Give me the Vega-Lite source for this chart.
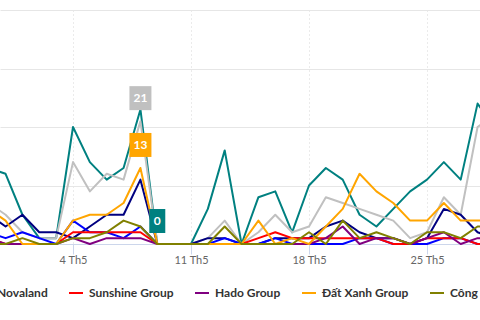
{
  "$schema": "https://vega.github.io/schema/vega-lite/v6.json",
  "autosize": {"type": "none"},
  "padding": {"left": 0, "top": 10, "right": 0, "bottom": 76},
  "width": 480,
  "height": 234,
  "config": {"view": {"stroke": null}, "font": "Lato"},
  "data": {"values": [
    {"s":"Vingroup","d":"2018-04-29","v":13},{"s":"Vingroup","d":"2018-04-30","v":12},{"s":"Vingroup","d":"2018-05-01","v":5},{"s":"Vingroup","d":"2018-05-02","v":1},{"s":"Vingroup","d":"2018-05-03","v":1},{"s":"Vingroup","d":"2018-05-04","v":20},{"s":"Vingroup","d":"2018-05-05","v":14},{"s":"Vingroup","d":"2018-05-06","v":11},{"s":"Vingroup","d":"2018-05-07","v":13},{"s":"Vingroup","d":"2018-05-08","v":23},{"s":"Vingroup","d":"2018-05-09","v":0},{"s":"Vingroup","d":"2018-05-10","v":0},{"s":"Vingroup","d":"2018-05-11","v":0},{"s":"Vingroup","d":"2018-05-12","v":6},{"s":"Vingroup","d":"2018-05-13","v":16},{"s":"Vingroup","d":"2018-05-14","v":0},{"s":"Vingroup","d":"2018-05-15","v":8},{"s":"Vingroup","d":"2018-05-16","v":9},{"s":"Vingroup","d":"2018-05-17","v":2},{"s":"Vingroup","d":"2018-05-18","v":10},{"s":"Vingroup","d":"2018-05-19","v":13},{"s":"Vingroup","d":"2018-05-20","v":11},{"s":"Vingroup","d":"2018-05-21","v":5},{"s":"Vingroup","d":"2018-05-22","v":3},{"s":"Vingroup","d":"2018-05-23","v":6},{"s":"Vingroup","d":"2018-05-24","v":9},{"s":"Vingroup","d":"2018-05-25","v":11},{"s":"Vingroup","d":"2018-05-26","v":14},{"s":"Vingroup","d":"2018-05-27","v":11},{"s":"Vingroup","d":"2018-05-28","v":24},{"s":"Vingroup","d":"2018-05-29","v":20},
    {"s":"FLC Group","d":"2018-04-29","v":7},{"s":"FLC Group","d":"2018-04-30","v":5},{"s":"FLC Group","d":"2018-05-01","v":2},{"s":"FLC Group","d":"2018-05-02","v":1},{"s":"FLC Group","d":"2018-05-03","v":1},{"s":"FLC Group","d":"2018-05-04","v":14},{"s":"FLC Group","d":"2018-05-05","v":9},{"s":"FLC Group","d":"2018-05-06","v":12},{"s":"FLC Group","d":"2018-05-07","v":11},{"s":"FLC Group","d":"2018-05-08","v":21},{"s":"FLC Group","d":"2018-05-09","v":0},{"s":"FLC Group","d":"2018-05-10","v":0},{"s":"FLC Group","d":"2018-05-11","v":0},{"s":"FLC Group","d":"2018-05-12","v":1},{"s":"FLC Group","d":"2018-05-13","v":4},{"s":"FLC Group","d":"2018-05-14","v":0},{"s":"FLC Group","d":"2018-05-15","v":2},{"s":"FLC Group","d":"2018-05-16","v":5},{"s":"FLC Group","d":"2018-05-17","v":2},{"s":"FLC Group","d":"2018-05-18","v":3},{"s":"FLC Group","d":"2018-05-19","v":8},{"s":"FLC Group","d":"2018-05-20","v":7},{"s":"FLC Group","d":"2018-05-21","v":6},{"s":"FLC Group","d":"2018-05-22","v":5},{"s":"FLC Group","d":"2018-05-23","v":4},{"s":"FLC Group","d":"2018-05-24","v":1},{"s":"FLC Group","d":"2018-05-25","v":2},{"s":"FLC Group","d":"2018-05-26","v":8},{"s":"FLC Group","d":"2018-05-27","v":5},{"s":"FLC Group","d":"2018-05-28","v":20},{"s":"FLC Group","d":"2018-05-29","v":22},
    {"s":"Vinhomes","d":"2018-04-29","v":5},{"s":"Vinhomes","d":"2018-04-30","v":3},{"s":"Vinhomes","d":"2018-05-01","v":5},{"s":"Vinhomes","d":"2018-05-02","v":2},{"s":"Vinhomes","d":"2018-05-03","v":2},{"s":"Vinhomes","d":"2018-05-04","v":1},{"s":"Vinhomes","d":"2018-05-05","v":3},{"s":"Vinhomes","d":"2018-05-06","v":5},{"s":"Vinhomes","d":"2018-05-07","v":5},{"s":"Vinhomes","d":"2018-05-08","v":11},{"s":"Vinhomes","d":"2018-05-09","v":0},{"s":"Vinhomes","d":"2018-05-10","v":0},{"s":"Vinhomes","d":"2018-05-11","v":0},{"s":"Vinhomes","d":"2018-05-12","v":1},{"s":"Vinhomes","d":"2018-05-13","v":1},{"s":"Vinhomes","d":"2018-05-14","v":0},{"s":"Vinhomes","d":"2018-05-15","v":0},{"s":"Vinhomes","d":"2018-05-16","v":1},{"s":"Vinhomes","d":"2018-05-17","v":1},{"s":"Vinhomes","d":"2018-05-18","v":1},{"s":"Vinhomes","d":"2018-05-19","v":3},{"s":"Vinhomes","d":"2018-05-20","v":4},{"s":"Vinhomes","d":"2018-05-21","v":2},{"s":"Vinhomes","d":"2018-05-22","v":1},{"s":"Vinhomes","d":"2018-05-23","v":1},{"s":"Vinhomes","d":"2018-05-24","v":0},{"s":"Vinhomes","d":"2018-05-25","v":1},{"s":"Vinhomes","d":"2018-05-26","v":6},{"s":"Vinhomes","d":"2018-05-27","v":5},{"s":"Vinhomes","d":"2018-05-28","v":2},{"s":"Vinhomes","d":"2018-05-29","v":1},
    {"s":"Novaland","d":"2018-04-29","v":2},{"s":"Novaland","d":"2018-04-30","v":1},{"s":"Novaland","d":"2018-05-01","v":2},{"s":"Novaland","d":"2018-05-02","v":1},{"s":"Novaland","d":"2018-05-03","v":0},{"s":"Novaland","d":"2018-05-04","v":4},{"s":"Novaland","d":"2018-05-05","v":2},{"s":"Novaland","d":"2018-05-06","v":2},{"s":"Novaland","d":"2018-05-07","v":1},{"s":"Novaland","d":"2018-05-08","v":3},{"s":"Novaland","d":"2018-05-09","v":0},{"s":"Novaland","d":"2018-05-10","v":0},{"s":"Novaland","d":"2018-05-11","v":0},{"s":"Novaland","d":"2018-05-12","v":0},{"s":"Novaland","d":"2018-05-13","v":1},{"s":"Novaland","d":"2018-05-14","v":0},{"s":"Novaland","d":"2018-05-15","v":0},{"s":"Novaland","d":"2018-05-16","v":1},{"s":"Novaland","d":"2018-05-17","v":0},{"s":"Novaland","d":"2018-05-18","v":0},{"s":"Novaland","d":"2018-05-19","v":0},{"s":"Novaland","d":"2018-05-20","v":0},{"s":"Novaland","d":"2018-05-21","v":1},{"s":"Novaland","d":"2018-05-22","v":1},{"s":"Novaland","d":"2018-05-23","v":0},{"s":"Novaland","d":"2018-05-24","v":0},{"s":"Novaland","d":"2018-05-25","v":0},{"s":"Novaland","d":"2018-05-26","v":1},{"s":"Novaland","d":"2018-05-27","v":1},{"s":"Novaland","d":"2018-05-28","v":0},{"s":"Novaland","d":"2018-05-29","v":0},
    {"s":"Sunshine Group","d":"2018-04-29","v":1},{"s":"Sunshine Group","d":"2018-04-30","v":0},{"s":"Sunshine Group","d":"2018-05-01","v":0},{"s":"Sunshine Group","d":"2018-05-02","v":0},{"s":"Sunshine Group","d":"2018-05-03","v":0},{"s":"Sunshine Group","d":"2018-05-04","v":2},{"s":"Sunshine Group","d":"2018-05-05","v":2},{"s":"Sunshine Group","d":"2018-05-06","v":2},{"s":"Sunshine Group","d":"2018-05-07","v":2},{"s":"Sunshine Group","d":"2018-05-08","v":2},{"s":"Sunshine Group","d":"2018-05-09","v":0},{"s":"Sunshine Group","d":"2018-05-10","v":0},{"s":"Sunshine Group","d":"2018-05-11","v":0},{"s":"Sunshine Group","d":"2018-05-12","v":0},{"s":"Sunshine Group","d":"2018-05-13","v":0},{"s":"Sunshine Group","d":"2018-05-14","v":0},{"s":"Sunshine Group","d":"2018-05-15","v":1},{"s":"Sunshine Group","d":"2018-05-16","v":2},{"s":"Sunshine Group","d":"2018-05-17","v":1},{"s":"Sunshine Group","d":"2018-05-18","v":1},{"s":"Sunshine Group","d":"2018-05-19","v":1},{"s":"Sunshine Group","d":"2018-05-20","v":1},{"s":"Sunshine Group","d":"2018-05-21","v":1},{"s":"Sunshine Group","d":"2018-05-22","v":1},{"s":"Sunshine Group","d":"2018-05-23","v":0},{"s":"Sunshine Group","d":"2018-05-24","v":0},{"s":"Sunshine Group","d":"2018-05-25","v":1},{"s":"Sunshine Group","d":"2018-05-26","v":1},{"s":"Sunshine Group","d":"2018-05-27","v":1},{"s":"Sunshine Group","d":"2018-05-28","v":0},{"s":"Sunshine Group","d":"2018-05-29","v":0},
    {"s":"Hado Group","d":"2018-04-29","v":1},{"s":"Hado Group","d":"2018-04-30","v":0},{"s":"Hado Group","d":"2018-05-01","v":0},{"s":"Hado Group","d":"2018-05-02","v":0},{"s":"Hado Group","d":"2018-05-03","v":0},{"s":"Hado Group","d":"2018-05-04","v":1},{"s":"Hado Group","d":"2018-05-05","v":0},{"s":"Hado Group","d":"2018-05-06","v":1},{"s":"Hado Group","d":"2018-05-07","v":1},{"s":"Hado Group","d":"2018-05-08","v":1},{"s":"Hado Group","d":"2018-05-09","v":0},{"s":"Hado Group","d":"2018-05-10","v":0},{"s":"Hado Group","d":"2018-05-11","v":0},{"s":"Hado Group","d":"2018-05-12","v":0},{"s":"Hado Group","d":"2018-05-13","v":0},{"s":"Hado Group","d":"2018-05-14","v":0},{"s":"Hado Group","d":"2018-05-15","v":0},{"s":"Hado Group","d":"2018-05-16","v":0},{"s":"Hado Group","d":"2018-05-17","v":0},{"s":"Hado Group","d":"2018-05-18","v":0},{"s":"Hado Group","d":"2018-05-19","v":1},{"s":"Hado Group","d":"2018-05-20","v":3},{"s":"Hado Group","d":"2018-05-21","v":0},{"s":"Hado Group","d":"2018-05-22","v":1},{"s":"Hado Group","d":"2018-05-23","v":1},{"s":"Hado Group","d":"2018-05-24","v":0},{"s":"Hado Group","d":"2018-05-25","v":1},{"s":"Hado Group","d":"2018-05-26","v":2},{"s":"Hado Group","d":"2018-05-27","v":0},{"s":"Hado Group","d":"2018-05-28","v":1},{"s":"Hado Group","d":"2018-05-29","v":1},
    {"s":"Đất Xanh Group","d":"2018-04-29","v":6},{"s":"Đất Xanh Group","d":"2018-04-30","v":4},{"s":"Đất Xanh Group","d":"2018-05-01","v":0},{"s":"Đất Xanh Group","d":"2018-05-02","v":0},{"s":"Đất Xanh Group","d":"2018-05-03","v":0},{"s":"Đất Xanh Group","d":"2018-05-04","v":4},{"s":"Đất Xanh Group","d":"2018-05-05","v":5},{"s":"Đất Xanh Group","d":"2018-05-06","v":5},{"s":"Đất Xanh Group","d":"2018-05-07","v":7},{"s":"Đất Xanh Group","d":"2018-05-08","v":13},{"s":"Đất Xanh Group","d":"2018-05-09","v":0},{"s":"Đất Xanh Group","d":"2018-05-10","v":0},{"s":"Đất Xanh Group","d":"2018-05-11","v":0},{"s":"Đất Xanh Group","d":"2018-05-12","v":0},{"s":"Đất Xanh Group","d":"2018-05-13","v":0},{"s":"Đất Xanh Group","d":"2018-05-14","v":0},{"s":"Đất Xanh Group","d":"2018-05-15","v":4},{"s":"Đất Xanh Group","d":"2018-05-16","v":0},{"s":"Đất Xanh Group","d":"2018-05-17","v":1},{"s":"Đất Xanh Group","d":"2018-05-18","v":0},{"s":"Đất Xanh Group","d":"2018-05-19","v":3},{"s":"Đất Xanh Group","d":"2018-05-20","v":6},{"s":"Đất Xanh Group","d":"2018-05-21","v":12},{"s":"Đất Xanh Group","d":"2018-05-22","v":9},{"s":"Đất Xanh Group","d":"2018-05-23","v":7},{"s":"Đất Xanh Group","d":"2018-05-24","v":4},{"s":"Đất Xanh Group","d":"2018-05-25","v":4},{"s":"Đất Xanh Group","d":"2018-05-26","v":7},{"s":"Đất Xanh Group","d":"2018-05-27","v":4},{"s":"Đất Xanh Group","d":"2018-05-28","v":4},{"s":"Đất Xanh Group","d":"2018-05-29","v":4},
    {"s":"Công ty Nam Long","d":"2018-04-29","v":0},{"s":"Công ty Nam Long","d":"2018-04-30","v":0},{"s":"Công ty Nam Long","d":"2018-05-01","v":1},{"s":"Công ty Nam Long","d":"2018-05-02","v":0},{"s":"Công ty Nam Long","d":"2018-05-03","v":0},{"s":"Công ty Nam Long","d":"2018-05-04","v":1},{"s":"Công ty Nam Long","d":"2018-05-05","v":1},{"s":"Công ty Nam Long","d":"2018-05-06","v":2},{"s":"Công ty Nam Long","d":"2018-05-07","v":4},{"s":"Công ty Nam Long","d":"2018-05-08","v":3},{"s":"Công ty Nam Long","d":"2018-05-09","v":0},{"s":"Công ty Nam Long","d":"2018-05-10","v":0},{"s":"Công ty Nam Long","d":"2018-05-11","v":0},{"s":"Công ty Nam Long","d":"2018-05-12","v":0},{"s":"Công ty Nam Long","d":"2018-05-13","v":3},{"s":"Công ty Nam Long","d":"2018-05-14","v":0},{"s":"Công ty Nam Long","d":"2018-05-15","v":0},{"s":"Công ty Nam Long","d":"2018-05-16","v":0},{"s":"Công ty Nam Long","d":"2018-05-17","v":0},{"s":"Công ty Nam Long","d":"2018-05-18","v":2},{"s":"Công ty Nam Long","d":"2018-05-19","v":0},{"s":"Công ty Nam Long","d":"2018-05-20","v":4},{"s":"Công ty Nam Long","d":"2018-05-21","v":1},{"s":"Công ty Nam Long","d":"2018-05-22","v":2},{"s":"Công ty Nam Long","d":"2018-05-23","v":1},{"s":"Công ty Nam Long","d":"2018-05-24","v":0},{"s":"Công ty Nam Long","d":"2018-05-25","v":2},{"s":"Công ty Nam Long","d":"2018-05-26","v":2},{"s":"Công ty Nam Long","d":"2018-05-27","v":1},{"s":"Công ty Nam Long","d":"2018-05-28","v":3},{"s":"Công ty Nam Long","d":"2018-05-29","v":3}
  ]},
  "encoding": {
    "x": {
      "field": "d", "type": "temporal",
      "scale": {"type": "utc", "domain": [
        {"year": 2018, "month": 4, "date": 29, "hours": 16, "minutes": 4, "utc": true},
        {"year": 2018, "month": 5, "date": 28, "hours": 3, "minutes": 28, "utc": true}
      ]},
      "axis": {
        "title": null,
        "values": [
          {"year": 2018, "month": 5, "date": 4, "utc": true},
          {"year": 2018, "month": 5, "date": 11, "utc": true},
          {"year": 2018, "month": 5, "date": 18, "utc": true},
          {"year": 2018, "month": 5, "date": 25, "utc": true}
        ],
        "labelExpr": "utcFormat(datum.value, '%-d') + ' Th' + utcFormat(datum.value, '%-m')",
        "labelFont": "Lato", "labelFontSize": 11, "labelColor": "#666666",
        "labelBaseline": "top", "labelPadding": 0, "labelFlush": false, "labelOverlap": false,
        "domainColor": "#ccd6eb", "tickColor": "#ccd6eb", "tickSize": 10,
        "grid": true, "gridColor": "#d6d6d6", "gridDash": [1, 3]
      }
    },
    "y": {
      "field": "v", "type": "quantitative",
      "scale": {"domain": [0, 40], "nice": false},
      "axis": {"title": null, "values": [0, 10, 20, 30, 40], "labels": false, "ticks": false, "domain": false, "gridColor": "#e6e6e6"}
    },
    "color": {
      "field": "s", "type": "nominal",
      "scale": {
        "domain": ["Vingroup", "FLC Group", "Vinhomes", "Novaland", "Sunshine Group", "Hado Group", "Đất Xanh Group", "Công ty Nam Long"],
        "range": ["#008080", "#c0c0c0", "#000080", "#0000ff", "#ff0000", "#800080", "#ffa500", "#808000"]
      },
      "legend": {
        "title": null, "orient": "none", "direction": "horizontal", "columns": 5,
        "legendX": -24, "legendY": 275, "padding": 0,
        "values": ["Novaland", "Sunshine Group", "Hado Group", "Đất Xanh Group", "Công ty Nam Long"],
        "symbolType": "stroke", "symbolSize": 196, "symbolStrokeWidth": 2,
        "labelFont": "Lato", "labelFontSize": 12, "labelFontWeight": "bold", "labelColor": "#333333",
        "labelOffset": 5, "columnPadding": 17, "labelLimit": 0
      }
    }
  },
  "layer": [
    {"mark": {"type": "line", "strokeWidth": 2, "strokeJoin": "round", "strokeCap": "round"}},
    {
      "transform": [{"filter": "((datum.s == 'FLC Group' || datum.s == 'Đất Xanh Group') && utcdate(datum.d) == 8) || (datum.s == 'Vingroup' && utcdate(datum.d) == 9 && utcmonth(datum.d) == 4)"}],
      "mark": {"type": "point", "filled": true, "opacity": 1, "size": 576, "yOffset": -23},
      "encoding": {
        "shape": {"condition": {"test": "datum.v >= 10", "value": "M-0.917,-1H0.917V1H-0.917Z"}, "value": "M-0.667,-1H0.667V1H-0.667Z"}
      }
    },
    {
      "transform": [{"filter": "((datum.s == 'FLC Group' || datum.s == 'Đất Xanh Group') && utcdate(datum.d) == 8) || (datum.s == 'Vingroup' && utcdate(datum.d) == 9 && utcmonth(datum.d) == 4)"}],
      "mark": {"type": "text", "yOffset": -23, "fontWeight": "bold", "fontSize": 12, "font": "Lato", "align": "center", "baseline": "middle"},
      "encoding": {
        "text": {"field": "v", "type": "quantitative"},
        "color": {"value": "#ffffff"}
      }
    }
  ]
}
